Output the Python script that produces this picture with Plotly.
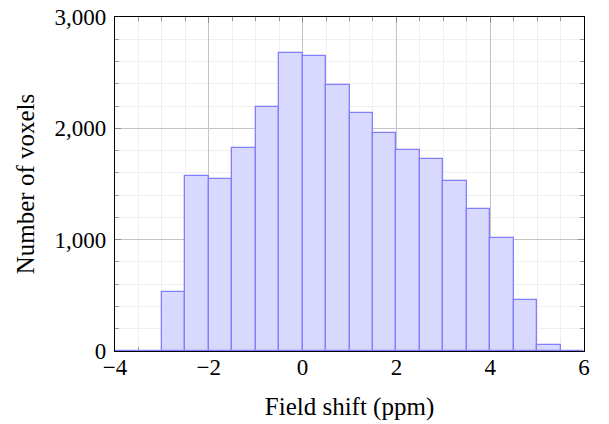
import plotly.graph_objects as go

# Histogram bins (left edges, width 0.5 ppm) and voxel counts
bin_left = [-4.0, -3.5, -3.0, -2.5, -2.0, -1.5, -1.0, -0.5, 0.0, 0.5,
            1.0, 1.5, 2.0, 2.5, 3.0, 3.5, 4.0, 4.5, 5.0, 5.5]
counts = [0, 0, 528, 1570, 1547, 1820, 2194, 2680, 2653, 2392,
          2135, 1960, 1802, 1721, 1529, 1274, 1016, 456, 57, 0]
bin_width = 0.5

x_ticks = [-4, -2, 0, 2, 4, 6]
y_ticks = [0, 1000, 2000, 3000]

centers = [b + bin_width / 2 for b in bin_left]

FONT = "Liberation Serif"
TICK_SIZE = 23
TITLE_SIZE = 25

fig = go.Figure()
fig.add_trace(go.Bar(
    x=centers, y=counts, width=[bin_width] * len(centers),
    marker=dict(color="rgb(217,217,255)",
                line=dict(color="rgb(128,128,255)", width=1.3)),
    hoverinfo="x+y",
))

axis_common = dict(
    showline=True, linecolor="black", linewidth=1.2, mirror="allticks",
    ticks="inside", ticklen=6, tickcolor="#8c8c8c", tickwidth=1.2,
    showgrid=True, gridcolor="#c4c4c4", gridwidth=1,
    zeroline=False, automargin=False, ticklabeloverflow="allow",
    tickfont=dict(family=FONT, size=TICK_SIZE, color="black"),
    layer="below traces",
)

# page body has an 8px offset; figure is sized to fill the rest of the window
fig.update_layout(
    width=601, height=416,
    margin=dict(l=107, r=25, t=9, b=73),
    paper_bgcolor="white", plot_bgcolor="white",
    bargap=0, showlegend=False,
    separators=".,",
    font=dict(family=FONT, size=TICK_SIZE, color="black"),
    xaxis=dict(
        range=[-4, 6], tickvals=x_ticks, ticklabelstandoff=-5,
        title=dict(text="Field shift (ppm)", font=dict(family=FONT, size=TITLE_SIZE), standoff=18),
        minor=dict(dtick=0.5, tick0=0, ticks="inside", ticklen=3.5, tickcolor="#9a9a9a",
                   showgrid=True, gridcolor="#efefef", gridwidth=1),
        **axis_common,
    ),
    yaxis=dict(
        range=[0, 3000], tickvals=y_ticks, tickformat=",d", ticklabelstandoff=3,
        title=dict(text="Number of voxels", font=dict(family=FONT, size=TITLE_SIZE), standoff=12),
        minor=dict(dtick=200, tick0=0, ticks="inside", ticklen=3.5, tickcolor="#9a9a9a",
                   showgrid=True, gridcolor="#efefef", gridwidth=1),
        **axis_common,
    ),
)

fig.write_html("out.html")
